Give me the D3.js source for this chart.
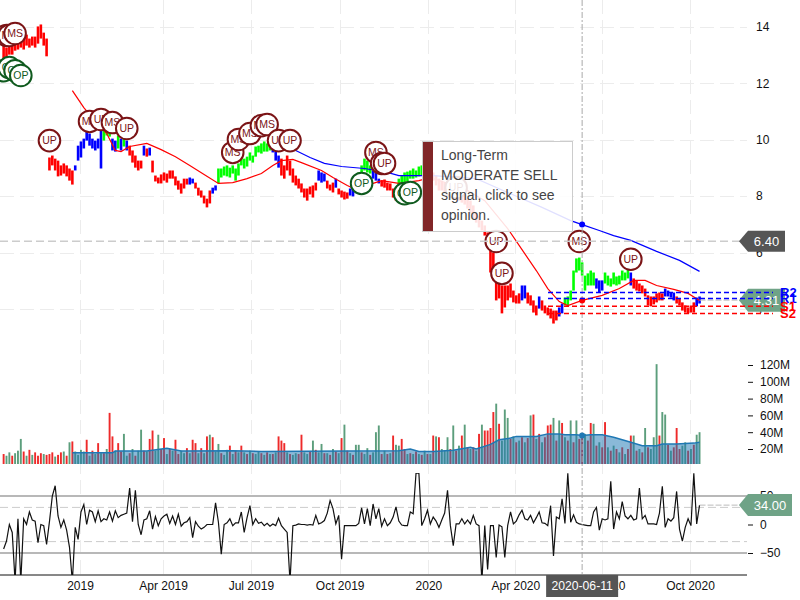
<!DOCTYPE html>
<html><head><meta charset="utf-8">
<script src="https://cdn.jsdelivr.net/npm/d3@7"></script>
<style>
html,body{margin:0;padding:0;background:#fff}
svg{display:block;font-family:"Liberation Sans",Arial,sans-serif}
</style></head><body><div id="c"></div>
<script>
// sampled every third calendar day
const dates = d3.timeDay.range(new Date(2018,9,13), new Date(2020,9,13), 3);

const priceHigh = [
13.34,13.27,13.45,13.52,13.45,13.59,13.59,13.66,13.73,13.59,
13.66,13.66,14.02,14.09,13.80,13.59,9.37,9.44,9.33,9.26,
9.09,9.16,9.09,8.98,8.91,9.09,9.79,9.94,10.04,10.33,
10.22,10.04,9.97,10.04,10.33,10.33,10.40,10.33,10.04,9.97,
10.15,10.04,10.11,9.97,9.79,9.62,9.44,9.26,9.26,9.79,
9.69,9.72,9.26,8.73,8.66,8.77,8.84,8.80,8.91,8.91,
8.70,8.55,8.45,8.62,8.62,8.66,8.62,8.48,8.30,8.20,
8.02,7.91,8.20,8.30,8.38,8.98,8.98,9.05,9.09,9.01,
9.09,8.98,9.16,9.37,9.33,9.40,9.55,9.44,9.76,9.79,
9.87,9.94,9.87,9.94,9.79,9.62,9.44,9.33,9.09,9.44,
9.26,8.98,8.73,8.62,8.45,8.27,8.27,8.34,8.38,8.48,
8.91,8.84,8.80,8.55,8.41,8.48,8.62,8.27,8.20,8.16,
8.13,8.27,8.34,8.73,8.84,9.09,9.33,9.26,9.09,8.91,
8.84,8.62,8.55,8.59,8.48,8.45,8.27,8.20,8.62,8.73,
8.84,8.87,8.91,8.98,8.91,9.05,9.09,9.26,9.37,9.26,
8.84,8.73,8.62,8.55,8.48,8.41,8.34,8.27,8.34,8.27,
8.13,8.06,7.91,7.84,7.67,7.42,7.31,7.13,6.96,6.71,
6.07,6.00,5.54,4.90,4.83,4.83,4.83,4.90,4.65,4.48,
4.55,4.83,4.83,4.58,4.48,4.30,4.12,4.44,4.30,4.12,
4.05,4.01,3.94,3.94,4.05,4.19,4.40,4.44,4.65,5.36,
5.79,5.82,5.65,5.18,5.26,5.36,5.29,5.08,5.01,5.01,
5.29,5.18,5.08,5.29,5.15,5.18,5.36,5.29,5.43,5.29,
5.08,5.01,4.90,4.83,4.72,4.48,4.44,4.44,4.55,4.58,
4.55,4.72,4.65,4.58,4.58,4.44,4.37,4.23,4.12,4.05,
4.12,4.23,4.40,4.44];
const priceLow = [
12.81,12.74,13.02,13.02,13.16,13.20,13.27,13.20,13.34,13.27,
13.34,13.27,13.41,13.59,13.34,12.96,8.91,9.09,8.91,8.70,
8.73,8.80,8.70,8.55,8.41,8.91,9.26,9.37,9.69,9.97,
9.79,9.69,9.62,9.69,8.98,9.97,10.15,10.11,9.62,9.58,
9.69,9.62,9.76,9.62,9.44,9.19,9.01,8.91,8.98,9.44,
9.40,9.44,8.84,8.52,8.45,8.45,8.55,8.48,8.62,8.62,
8.38,8.23,8.09,8.27,8.41,8.41,8.45,8.27,8.02,7.95,
7.74,7.60,7.74,8.09,8.20,8.45,8.66,8.73,8.70,8.66,
8.80,8.55,8.73,9.09,8.98,9.05,9.26,9.19,9.40,9.55,
9.51,9.58,9.58,9.62,9.55,9.26,9.01,8.73,8.62,8.91,
8.73,8.48,8.38,8.27,8.13,7.95,7.84,8.06,7.95,8.20,
8.55,8.48,8.52,8.27,8.20,8.13,8.30,8.06,7.95,7.88,
7.91,8.02,7.99,8.30,8.55,8.73,8.91,8.84,8.80,8.62,
8.55,8.45,8.34,8.30,8.20,8.20,7.95,7.84,8.27,8.38,
8.45,8.52,8.62,8.62,8.66,8.70,8.73,8.80,8.91,8.91,
8.55,8.38,8.20,8.20,8.13,8.02,7.99,7.95,7.95,7.84,
7.77,7.70,7.56,7.38,7.21,7.06,6.89,6.78,6.60,6.32,
5.29,5.01,4.30,4.37,3.84,4.05,4.30,4.40,4.23,4.19,
4.19,4.30,4.37,4.19,4.12,3.87,3.77,4.01,3.94,3.84,
3.77,3.66,3.48,3.59,3.73,3.84,4.12,4.09,4.30,4.65,
5.29,5.36,5.18,4.65,4.83,4.83,4.83,4.72,4.58,4.65,
4.90,4.83,4.79,4.87,4.83,4.87,5.01,5.01,5.08,4.83,
4.72,4.65,4.62,4.55,4.44,4.12,4.09,4.16,4.23,4.30,
4.30,4.44,4.44,4.40,4.30,4.19,4.12,3.94,3.87,3.84,
3.87,3.87,4.09,4.19];

// [first index, trend] runs
const trendRuns = [[0,"r"],[25,"b"],[35,"g"],[38,"b"],[40,"g"],[41,"b"],[42,"g"],[43,"b"],[44,"r"],[49,"b"],[50,"r"],[51,"b"],[52,"r"],[65,"b"],[67,"r"],[73,"b"],[75,"g"],[94,"b"],[97,"r"],[110,"b"],[113,"r"],[116,"b"],[117,"r"],[121,"b"],[123,"g"],[129,"b"],[132,"r"],[138,"g"],[150,"r"],[181,"b"],[183,"r"],[187,"b"],[188,"r"],[194,"b"],[196,"g"],[207,"b"],[210,"g"],[219,"b"],[220,"r"],[231,"b"],[235,"r"],[242,"b"]];

const shortMaIdx = [24,28,33,36,39,41,44,50,55,60,65,70,75,80,85,90,94,97,101,104,111,115,120,123,129,132,138,145,149,155,162,168,176,180,186,190,194,197,202,209,215,220,224,228,234,239,243];
const shortMaVal = [11.74,11.14,10.54,10.22,9.62,9.58,9.76,9.87,9.65,9.40,9.09,8.77,8.45,8.48,8.62,8.80,9.09,9.26,9.30,9.19,8.91,8.66,8.38,8.23,8.45,8.55,8.45,8.55,8.66,8.45,8.20,7.84,6.85,6.25,5.36,4.72,4.26,4.12,4.30,4.48,4.72,5.01,5.01,4.83,4.69,4.55,4.30];
const longMaIdx = [102,107,112,118,126,134,138,145,150,165,176,188,198,202,208,213,219,228,236,243];
const longMaVal = [9.62,9.37,9.16,9.05,8.98,8.84,8.73,8.73,8.73,8.62,8.13,7.60,7.13,6.99,6.78,6.60,6.43,6.04,5.72,5.33];

const flagIdx   = [0,2,4,6,1,2,4,16,30,34,38,43,80,82,86,90,92,96,100,125,130,132,133,140,142,158,172,174,201,219];
const flagPrice = [12.45,12.56,12.45,12.28,13.70,13.70,13.77,9.97,10.65,10.72,10.61,10.40,9.55,10.01,10.22,10.50,10.54,9.97,9.97,8.45,9.55,9.16,9.16,8.09,8.13,8.30,6.39,5.26,6.39,5.76];
const flagText  = ["OP","OP","OP","OP","MS","MS","MS","UP","MS","UP","MS","UP","MS","MS","MS","MS","MS","UP","UP","OP","MS","UP","UP","OP","OP","UP","UP","UP","MS","UP"];

const srLabels = ["R2","R1","S1","S2"];
const srValues = [4.58,4.37,4.09,3.84];

const volume = [
14,12,16,12,15,18,32,17,12,19,
13,16,12,15,14,13,14,16,11,13,
16,17,12,28,29,17,13,19,17,31,
12,18,14,27,15,15,20,63,35,18,
27,17,38,12,15,20,12,18,43,18,
17,32,42,18,37,20,33,14,20,18,
31,14,18,15,21,15,31,27,15,21,
15,35,37,34,17,26,15,13,19,24,
14,18,16,24,16,14,18,15,14,17,
15,13,16,14,14,16,35,30,27,16,
14,13,15,14,37,16,14,17,30,19,
16,26,15,15,13,20,17,15,33,49,
18,15,13,25,25,16,14,21,13,16,
40,48,14,18,14,15,36,25,24,32,
20,14,15,14,17,14,13,18,14,14,
36,35,34,20,18,34,20,48,18,24,
36,49,22,20,22,18,38,49,42,42,
45,64,74,50,30,67,57,32,35,28,
30,34,28,33,60,61,32,38,28,34,
48,49,57,30,54,51,34,30,54,28,
54,32,36,38,30,51,50,24,28,22,
52,22,18,24,20,16,22,14,20,36,
36,18,20,16,45,22,20,34,121,36,
64,61,25,18,22,45,20,24,28,18,
20,25,37,40];
const volumeDir =
"rggrgggrgr"+"grrrgrrrgr"+"rgrgrggggr"+"grgrgrgrrg"+"rrggrgrggr"+
"grrggrrgrg"+"rrggrgrrgr"+"grgrggrggr"+"grgrgrgrgg"+"rgrgrgrrrg"+
"rggrrggrgr"+"ggrgrgrgrg"+"rgrggrggrg"+"ggrgrgrggr"+"rgrgrgrgrg"+
"rgrgggrgrg"+"rgrgrgrgrr"+"rrgrgggrgr"+"grgrgrgrgr"+"rrgrgrgrgr"+
"grrgrrgrgr"+"rgrgrgrgrr"+"grgrgrgggr"+"ggrgrrrggr"+"grgg";
const volMaIdx = [24,38,39,50,57,62,80,90,120,138,142,145,150,157,163,165,170,173,177,179,186,190,194,196,200,202,205,209,213,219,223,228,230,235,241,243];
const volMaVal = [15.5,15.5,17.5,17.7,21,17.5,18,17,17.5,18,20,17,17,18.5,22,20,25.5,31,33,35,35,38,38,37,37,36,37,37,34,28,24,24,26,26,27,28];

const oscillator = [
-43,-29,0,-14,-100,10,-100,10,0,22,
8,6,-32,0,-2,-35,5,50,68,15,
-5,8,-10,-40,-100,-5,-26,22,35,0,
25,22,5,24,5,10,8,22,6,24,
12,16,18,20,64,5,60,0,-18,8,
10,24,-8,14,-2,10,15,18,2,15,
0,18,-3,3,5,12,-23,5,-3,-8,
-5,0,0,0,38,4,-52,0,3,10,
-2,3,3,22,-14,12,33,0,10,2,
4,-2,2,-3,1,-2,11,-2,-8,-14,
-100,-2,-1,1,0,0,-1,0,-1,16,
1,3,7,20,42,28,1,16,-61,-2,
-2,-2,-2,-2,2,29,1,28,-2,36,
10,28,-3,10,-2,3,13,31,6,-1,
-2,-2,22,19,90,90,-2,10,25,1,
13,6,-5,8,20,60,-2,-37,1,1,
10,1,8,1,16,1,-2,-100,-2,-79,
-2,-2,-58,-1,-4,-58,-2,22,1,6,
17,25,10,8,16,3,12,22,3,2,
-2,33,-55,13,10,45,2,90,4,17,
4,1,0,-1,-2,-2,22,30,-10,10,
8,10,76,-8,22,10,40,15,10,16,
8,10,64,10,16,1,1,1,0,20,
67,-5,10,6,12,58,-8,-29,-5,10,
-2,90,1,34];

const xTickDates = ["2019-01-01","2019-03-29","2019-06-29","2019-09-30","2020-01-01","2020-04-01","2020-07-01","2020-10-01"];
const xTickLabels = ["2019","Apr 2019","Jul 2019","Oct 2019","2020","Apr 2020","Jul 2020","Oct 2020"];
const priceTicks = [4,6,8,10,12,14];
const volumeTicks = [20,40,60,80,100,120];
const oscTicks = [-50,0,50];
const oscSolid = [50,-50];
const oscDashed = [30,-30];
const cursorIdx = 202, cursorLabel = "2020-06-11", cursorPrice = 6.40, lastPrice = 4.31, lastOsc = 34;
const tipLines = ["Long-Term","MODERATE SELL","signal, click to see","opinion."];

const parse = d3.timeParse("%Y-%m-%d");
const W = 800, H = 600, axisEnd = 747;
const x = d3.scaleTime().domain([parse("2019-01-01"), parse("2020-10-01")]).range([80, 690]);
const yP = d3.scaleLinear().domain([6,14]).range([252.5,27]);
const yV = d3.scaleLinear().domain([20,120]).range([449,365]);
const yO = d3.scaleLinear().domain([-50,50]).range([553,496]);
const volBase = 464;
const TR = {r:"#f00", b:"#00f", g:"#0f0"};
const DARK = "#7b1416", OPC = "#0f5a1e";

const svg = d3.select("#c").append("svg").attr("width",W).attr("height",H);
svg.append("defs").append("clipPath").attr("id","oc").append("rect").attr("x",0).attr("y",473).attr("width",axisEnd).attr("height",102);

const trendAt = i => { let t = "r"; for (const [s,c] of trendRuns) if (i>=s) t=c; return t; };

// grid
const grid = svg.append("g").attr("stroke","#ececec").attr("stroke-width",1).attr("stroke-dasharray","14,6").attr("fill","none");
grid.selectAll("line.v").data(xTickDates).join("line").attr("class","v")
  .attr("x1",d=>Math.round(x(parse(d)))+.5).attr("x2",d=>Math.round(x(parse(d)))+.5).attr("y1",0).attr("y2",575);
grid.selectAll("line.h").data(priceTicks).join("line").attr("class","h")
  .attr("x1",0).attr("x2",axisEnd).attr("y1",d=>Math.round(yP(d))+.5).attr("y2",d=>Math.round(yP(d))+.5);

// axes
const ax = svg.append("g").attr("transform","translate(0,575)")
  .call(d3.axisBottom(x).tickValues(xTickDates.map(parse)).tickSize(0).tickPadding(6).tickFormat((d,i)=>xTickLabels[i]));
function styleAxis(g){ g.select(".domain").remove(); g.selectAll("text").attr("font-size",12).attr("font-family","Liberation Sans").attr("fill","#111");
  g.selectAll("line").attr("stroke","#111"); }
ax.call(styleAxis);
svg.append("line").attr("x1",0).attr("x2",axisEnd).attr("y1",575).attr("y2",575).attr("stroke","#111");
svg.append("g").attr("transform","translate(756,0)").call(d3.axisRight(yP).tickValues(priceTicks).tickSize(0).tickPadding(0)).call(styleAxis);
svg.append("g").attr("transform","translate(748,0)").call(d3.axisRight(yV).tickValues(volumeTicks).tickSize(5).tickPadding(7).tickFormat(d=>d+"M")).call(styleAxis);
svg.append("g").attr("transform","translate(748,0)").call(d3.axisRight(yO).tickValues(oscTicks).tickSize(5).tickPadding(7)).call(styleAxis);

// volume
svg.append("g").selectAll("rect").data(volume).join("rect")
  .attr("x",(d,i)=>x(dates[i])-.95).attr("width",1.9)
  .attr("y",d=>yV(d)).attr("height",d=>Math.max(0,volBase-yV(d)))
  .attr("fill",(d,i)=>volumeDir[i]==="r"?"#ee2a2a":"#5c9e7c");
const vmaPts = volMaIdx.map((k,i)=>[x(dates[k]),yV(volMaVal[i])]);
svg.append("path").attr("d",d3.area().x(d=>d[0]).y1(d=>d[1]).y0(volBase)(vmaPts)).attr("fill","#1f78b4").attr("fill-opacity",.52);
svg.append("path").attr("d",d3.line()(vmaPts)).attr("fill","none").attr("stroke","#1f78b4").attr("stroke-width",1.5);

// oscillator
const osc = svg.append("g");
osc.selectAll("line.s").data(oscSolid).join("line").attr("class","s").attr("x1",0).attr("x2",axisEnd)
  .attr("y1",d=>yO(d)).attr("y2",d=>yO(d)).attr("stroke","#b8b8b8").attr("stroke-width",2);
osc.selectAll("line.d").data(oscDashed).join("line").attr("class","d").attr("x1",0).attr("x2",axisEnd)
  .attr("y1",d=>yO(d)).attr("y2",d=>yO(d)).attr("stroke","#ccc").attr("stroke-dasharray","8,4");
osc.append("path").attr("clip-path","url(#oc)")
  .attr("d",d3.line().x((d,i)=>x(dates[i])).y(d=>yO(d))(oscillator))
  .attr("fill","none").attr("stroke","#111").attr("stroke-width",1.2);

// price bars
svg.append("g").selectAll("line").data(priceHigh).join("line")
  .attr("x1",(d,i)=>x(dates[i])).attr("x2",(d,i)=>x(dates[i]))
  .attr("y1",d=>yP(d)).attr("y2",(d,i)=>yP(priceLow[i]))
  .attr("stroke",(d,i)=>TR[trendAt(i)]).attr("stroke-width",2.6);

// moving averages
const line = d3.line();
svg.append("path").attr("d",line(shortMaIdx.map((k,i)=>[x(dates[k]),yP(shortMaVal[i])]))).attr("fill","none").attr("stroke","#f00").attr("stroke-width",1.2);
svg.append("path").attr("d",line(longMaIdx.map((k,i)=>[x(dates[k]),yP(longMaVal[i])]))).attr("fill","none").attr("stroke","#00f").attr("stroke-width",1.2);

// flags
const flags = svg.append("g").selectAll("g").data(flagText).join("g")
  .attr("transform",(d,i)=>`translate(${x(dates[flagIdx[i]])},${yP(flagPrice[i])})`);
flags.append("circle").attr("r",10.8).attr("fill","#fff").attr("stroke-width",2).attr("stroke",d=>d==="OP"?OPC:DARK);
flags.append("text").attr("text-anchor","middle").attr("dy","0.36em").attr("font-size",10.5)
  .attr("fill",d=>d==="OP"?OPC:DARK).text(d=>d);

// cursor
const cx = x(dates[cursorIdx]);
svg.append("line").attr("x1",cx).attr("x2",cx).attr("y1",0).attr("y2",575).attr("stroke","#aaa").attr("stroke-dasharray","6,2,2,2");
svg.append("line").attr("x1",0).attr("x2",740).attr("y1",yP(cursorPrice)).attr("y2",yP(cursorPrice)).attr("stroke","#ccc").attr("stroke-width",1.5).attr("stroke-dasharray","8,4");
svg.append("circle").attr("cx",cx).attr("cy",yP(longMaVal[longMaIdx.indexOf(cursorIdx)])).attr("r",3).attr("fill","#00f");
svg.append("circle").attr("cx",cx).attr("cy",yP(shortMaVal[shortMaIdx.indexOf(cursorIdx)])).attr("r",3).attr("fill","#f00");
svg.append("circle").attr("cx",cx).attr("cy",yV(volMaVal[volMaIdx.indexOf(cursorIdx)])).attr("r",3).attr("fill","#1f78b4");

// tooltip
const tip = svg.append("g");
tip.append("rect").attr("x",422.5).attr("y",141.5).attr("width",150).attr("height",90).attr("fill","#fff").attr("fill-opacity",.88).attr("stroke","#ccc");
tip.append("rect").attr("x",423).attr("y",142).attr("width",10).attr("height",89).attr("fill","#7a1a1c").attr("fill-opacity",.95);
tip.selectAll("text").data(tipLines).join("text").attr("x",441).attr("y",(d,i)=>160+i*20)
  .attr("font-size",14).attr("fill","#444").text(d=>d);

// tags
function tag(yc,h,fill,txt,x1,fs){
  const g = svg.append("g");
  g.append("path").attr("d",`M739,${yc}L748,${yc-h/2}H${x1}V${yc+h/2}H748Z`).attr("fill",fill);
  g.append("text").attr("x",(748+x1)/2).attr("y",yc).attr("dy","0.36em").attr("text-anchor","middle").attr("fill","#fff").attr("font-size",fs).text(txt);
}
svg.append("line").attr("x1",x(dates[243])).attr("x2",740).attr("y1",yO(lastOsc)).attr("y2",yO(lastOsc)).attr("stroke","#bbb").attr("stroke-dasharray","6,2");
svg.append("line").attr("x1",x(dates[243])).attr("x2",740).attr("y1",yP(lastPrice)).attr("y2",yP(lastPrice)).attr("stroke","#bbb").attr("stroke-dasharray","6,2");
tag(yO(lastOsc),22,"#6fa387",lastOsc.toFixed(2),792,13);
tag(yP(lastPrice),23,"#6fa387",lastPrice.toFixed(2),785,13);
tag(yP(cursorPrice),21,"#555",cursorPrice.toFixed(2),785,13);

// support / resistance
const sr = svg.append("g");
sr.selectAll("line").data(srValues).join("line").attr("x1",548).attr("x2",773)
  .attr("y1",d=>yP(d)).attr("y2",d=>yP(d)).attr("stroke",(d,i)=>srLabels[i][0]==="R"?"#00f":"#f00")
  .attr("stroke-width",1.5).attr("stroke-dasharray","5,3");
sr.selectAll("text").data(srValues).join("text").attr("x",780).attr("y",d=>yP(d)).attr("dy","0.36em")
  .attr("font-size",13).attr("font-weight","bold").attr("fill",(d,i)=>srLabels[i][0]==="R"?"#00f":"#f00").text((d,i)=>srLabels[i]);

// date box
svg.append("rect").attr("x",cx-36).attr("y",575).attr("width",72).attr("height",22).attr("fill","#555");
svg.append("text").attr("x",cx).attr("y",586).attr("dy","0.36em").attr("text-anchor","middle").attr("fill","#fff").attr("font-size",12.2).text(cursorLabel);
</script></body></html>
